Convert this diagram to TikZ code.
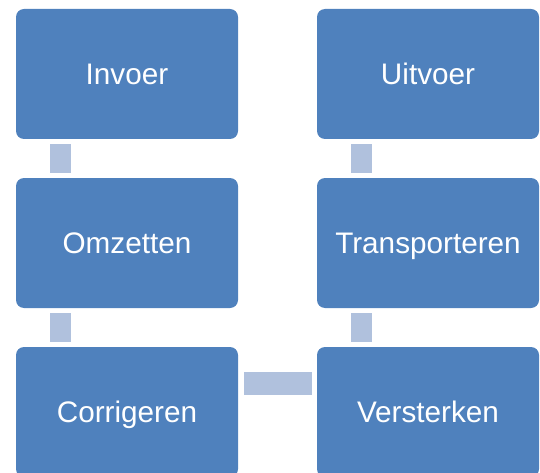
\documentclass[tikz,border=0pt]{standalone}
\usepackage{fontspec}
\setmainfont{Liberation Sans}
\usetikzlibrary{calc}
\definecolor{boxblue}{HTML}{4F81BD}
\definecolor{connblue}{HTML}{B0C1DD}
\tikzset{
  stepbox/.style={rectangle, rounded corners=8pt, fill=boxblue, draw=none,
    minimum width=222pt, minimum height=130pt, inner sep=0pt,
    text height=21pt, text depth=0pt,
    text=white, font=\fontsize{29.7}{34}\selectfont},
  vconn/.style={draw=connblue, line width=21pt, shorten <=5pt, shorten >=5pt},
  hconn/.style={draw=connblue, line width=23pt, shorten <=6pt, shorten >=5pt}
}
\begin{document}
\begin{tikzpicture}[x=1pt,y=-1pt]
\useasboundingbox (0,0) rectangle (540,473);
\clip (0,0) rectangle (540,473);
\node[stepbox] (invoer) at (127,74) {Invoer};
\node[stepbox] (omzetten) at (127,243) {Omzetten};
\node[stepbox] (corrigeren) at (127,412) {Corrigeren};
\node[stepbox] (uitvoer) at (428,74) {Uitvoer};
\node[stepbox] (transporteren) at (428,243) {Transporteren};
\node[stepbox] (versterken) at (428,412) {Versterken};
\draw[vconn] ($(invoer.south west)+(44.5,0)$) -- ($(omzetten.north west)+(44.5,0)$);
\draw[vconn] ($(omzetten.south west)+(44.5,0)$) -- ($(corrigeren.north west)+(44.5,0)$);
\draw[hconn] ($(corrigeren.north east)+(0,36.5)$) -- ($(versterken.north west)+(0,36.5)$);
\draw[vconn] ($(versterken.north west)+(44.5,0)$) -- ($(transporteren.south west)+(44.5,0)$);
\draw[vconn] ($(transporteren.north west)+(44.5,0)$) -- ($(uitvoer.south west)+(44.5,0)$);
\end{tikzpicture}
\end{document}
